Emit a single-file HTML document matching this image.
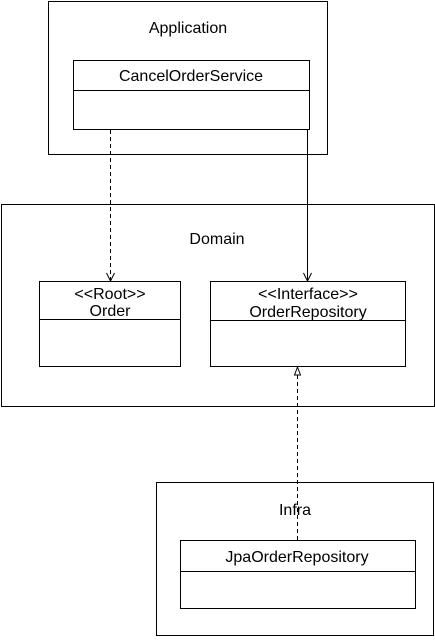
<!DOCTYPE html>
<html><head><meta charset="utf-8"><style>
html,body{margin:0;padding:0;background:#fff;}
svg text{font-family:"Liberation Sans",Arial,sans-serif;font-size:16px;fill:#000;}
</style></head><body>
<svg width="435" height="636" viewBox="0 0 435 636" xmlns="http://www.w3.org/2000/svg">
<g fill="none" stroke="#000" stroke-width="1">
<rect x="48.5" y="1.5" width="279" height="153"/>
<rect x="73.5" y="60.5" width="236" height="69"/>
<line x1="73.5" y1="90.5" x2="309.5" y2="90.5"/>
<rect x="1.5" y="204.5" width="433" height="202"/>
<rect x="39.5" y="281.5" width="141" height="85"/>
<line x1="39.5" y1="319.5" x2="180.5" y2="319.5"/>
<rect x="210.5" y="281.5" width="195" height="85"/>
<line x1="210.5" y1="320.5" x2="405.5" y2="320.5"/>
<rect x="156.5" y="482.5" width="277" height="153"/>
<rect x="180.5" y="540.5" width="235" height="68"/>
<line x1="180.5" y1="571.5" x2="415.5" y2="571.5"/>
<line x1="110.5" y1="130" x2="110.5" y2="280" stroke-dasharray="4,3"/>
<polyline points="106.5,273 110.5,281 114.5,273"/>
<line x1="307.5" y1="130" x2="307.5" y2="280"/>
<polyline points="303.5,273 307.5,281 311.5,273"/>
<line x1="297.5" y1="540" x2="297.5" y2="375" stroke-dasharray="4,3"/>
<polygon points="297.5,367 294.5,375 300.5,375"/>
</g>
<text x="188" y="33" text-anchor="middle">Application</text>
<text x="191" y="81" text-anchor="middle">CancelOrderService</text>
<text x="217" y="244" text-anchor="middle">Domain</text>
<text x="110" y="299" text-anchor="middle">&lt;&lt;Root&gt;&gt;</text>
<text x="110" y="316" text-anchor="middle">Order</text>
<text x="308" y="299" text-anchor="middle">&lt;&lt;Interface&gt;&gt;</text>
<text x="308" y="317" text-anchor="middle">OrderRepository</text>
<text x="295" y="515" text-anchor="middle">Infra</text>
<text x="297" y="562" text-anchor="middle">JpaOrderRepository</text>
</svg>
</body></html>
